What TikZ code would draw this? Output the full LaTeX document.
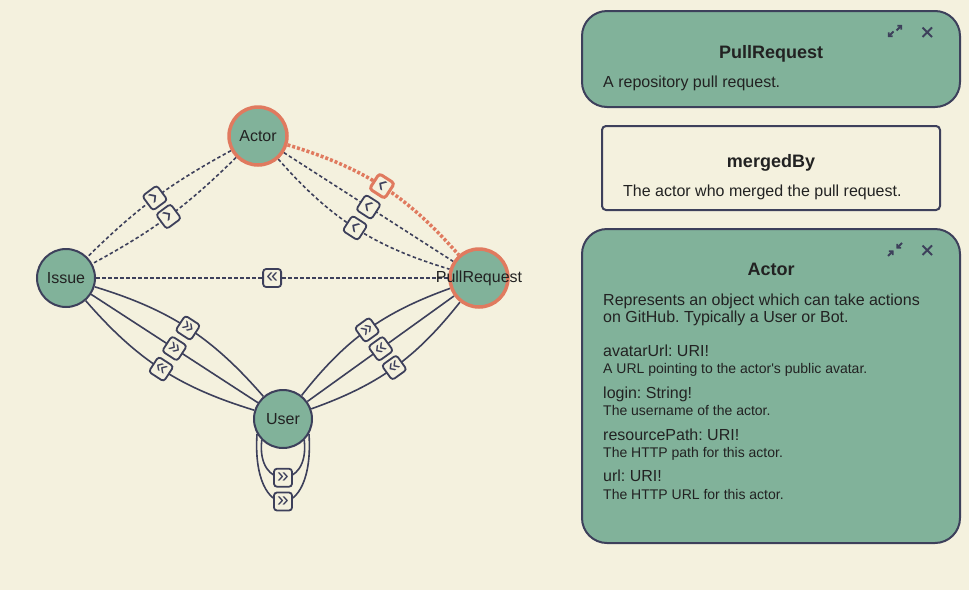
\documentclass[tikz,border=0pt]{standalone}
\usepackage{fontspec}
\setmainfont{Liberation Sans}
\usetikzlibrary{arrows.meta}
\frenchspacing

\definecolor{cream}{HTML}{F4F1DE}
\definecolor{sage}{HTML}{81B29A}
\definecolor{navy}{HTML}{3D405B}
\definecolor{terra}{HTML}{E07A5F}
\definecolor{ink}{HTML}{222222}

\pgfdeclarelayer{background}
\pgfdeclarelayer{edges}
\pgfsetlayers{background,edges,main}

\tikzset{
  typenode/.style={circle, draw=navy, line width=2pt, fill=sage, minimum size=58pt, inner sep=0pt,
    text=ink, font=\fontsize{16}{19}\selectfont},
  picked/.style={draw=terra, line width=3.5pt},
  reflink/.style={navy, line width=1.6pt, dash pattern=on 3.5pt off 2.5pt},
  pickedlink/.style={terra, line width=3.5pt, dash pattern=on 3pt off 2pt},
  ownlink/.style={navy, line width=1.6pt},
  chev/.style={draw=navy, solid, line width=1.8pt, fill=cream, rounded corners=3pt, minimum size=18pt,
    inner sep=0pt, text=navy, font=\fontsize{21}{21}\selectfont, sloped},
  onechev/.style={chev, font=\fontsize{25}{25}\selectfont},
  chevpicked/.style={onechev, draw=terra, line width=3pt},
  panel/.style={draw=navy, line width=2pt, fill=sage, rounded corners=25pt},
  fieldpanel/.style={draw=navy, line width=2pt, fill=cream, rounded corners=4pt},
  paneltitle/.style={inner sep=0pt, text=ink, font=\bfseries\fontsize{18}{22}\selectfont},
  paneltext/.style={inner sep=0pt, text=ink, font=\fontsize{16}{19}\selectfont},
  panelsmall/.style={inner sep=0pt, text=ink, font=\fontsize{14}{17}\selectfont},
  icon/.style={navy, line width=1.8pt},
  iconarrow/.style={icon, -{Straight Barb[length=2.5pt, width=5.5pt]}}
}

\begin{document}
\begin{tikzpicture}[x=1pt, y=1pt]

% Canvas
\useasboundingbox (0,0) rectangle (969,-590);
\begin{pgfonlayer}{background}
\fill[cream] (0,0) rectangle (969,-590);
\end{pgfonlayer}

% Type nodes
\node[typenode, picked] (actor) at (258,-136) {Actor};
\node[typenode] (issue) at (66,-278) {Issue};
\node[typenode, picked] (pr) at (479,-278) {\makebox[0pt]{PullRequest}};
\node[typenode] (user) at (283,-419) {User};

% Field links between types
\begin{pgfonlayer}{edges}
\draw[reflink] (actor) to[bend right=8] node[onechev] {›} (issue);
\draw[reflink] (actor) to[bend left=8] node[onechev] {›} (issue);
\draw[pickedlink] (actor) to[bend left=16] node[chevpicked] {‹} (pr);
\draw[reflink] (actor) to node[onechev] {‹} (pr);
\draw[reflink] (actor) to[bend right=16] node[onechev] {‹} (pr);
\draw[reflink] (issue) -- node[chev] {«} (pr);
\draw[ownlink] (issue) to[bend left=16] node[chev] {»} (user);
\draw[ownlink] (issue) to node[chev] {»} (user);
\draw[ownlink] (issue) to[bend right=16] node[chev] {«} (user);
\draw[ownlink] (user) to[bend left=16] node[chev] {»} (pr);
\draw[ownlink] (user) to node[chev] {«} (pr);
\draw[ownlink] (user) to[bend right=16] node[chev] {«} (pr);
% self links on User
\draw[ownlink] (user.-135) .. controls +(-6,-50) and +(6,-50) .. node[chev] {»} (user.-45);
\draw[ownlink] (user.-150) .. controls +(-6,-90) and +(6,-90) .. node[chev] {»} (user.-30);
\end{pgfonlayer}

% PullRequest panel
\draw[panel] (582,-11) rectangle (960,-107);
\node[paneltitle, anchor=base] (prtitle) at (771,-58) {PullRequest};
\node[paneltext, anchor=base west] (prdesc) at (603,-87) {A repository pull request.};
\draw[iconarrow] (893.5,-31.5) -- (888,-37);
\draw[iconarrow] (896.5,-30.5) -- (902,-25);
\draw[icon] (922.5,-27.5) -- (932,-37) (922.5,-37) -- (932,-27.5);

% mergedBy field panel
\draw[fieldpanel] (602,-126) rectangle (940,-210);
\node[paneltitle, anchor=base] (mbtitle) at (771,-167) {mergedBy};
\node[paneltext, anchor=base west] (mbdesc) at (623,-196) {The actor who merged the pull request.};

% Actor panel
\draw[panel] (582,-229) rectangle (960,-543);
\node[paneltitle, anchor=base] (actortitle) at (771,-275) {Actor};
\node[paneltext, anchor=base west] (actordesc1) at (603,-305) {Represents an object which can take actions};
\node[paneltext, anchor=base west] (actordesc2) at (603,-322.5) {on GitHub. Typically a User or Bot.};
\draw[iconarrow] (888,-256) -- (893.5,-250.5);
\draw[iconarrow] (902,-243) -- (896.5,-248.5);
\draw[icon] (922.5,-245.5) -- (932,-255) (922.5,-255) -- (932,-245.5);

% Actor fields
\foreach \fname/\fdesc/\fy [count=\i] in {
    avatarUrl: URI!/A URL pointing to the actor\textquotesingle s public avatar./356.5,
    login: String!/The username of the actor./398.2,
    resourcePath: URI!/The HTTP path for this actor./440,
    url: URI!/The HTTP URL for this actor./481.7} {
  \node[paneltext, anchor=base west] (field\i) at (603,-\fy) {\fname};
  \node[panelsmall, anchor=base west] (fielddesc\i) at (603,-\fy-17.3) {\fdesc};
}

\end{tikzpicture}
\end{document}
